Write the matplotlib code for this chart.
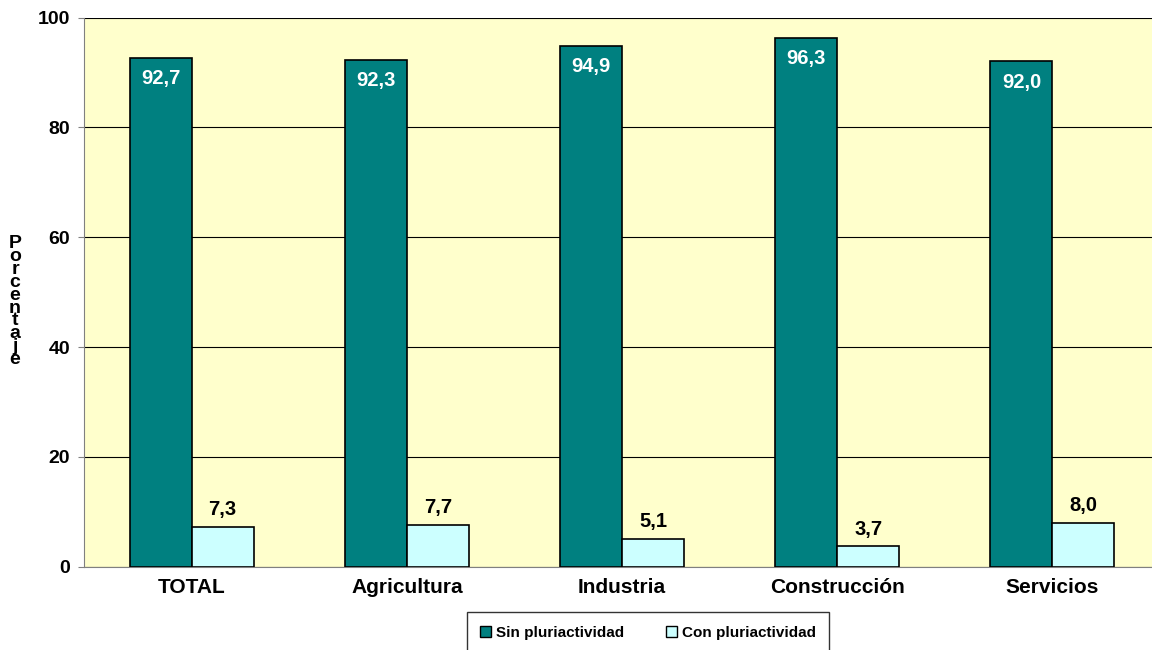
import matplotlib.pyplot as plt
import numpy as np
from matplotlib.patches import Patch

categorias = ["TOTAL", "Agricultura", "Industria", "Construcción", "Servicios"]
sin_pluri = [92.7, 92.3, 94.9, 96.3, 92.0]
con_pluri = [7.3, 7.7, 5.1, 3.7, 8.0]
serie_nombres = ["Sin pluriactividad", "Con pluriactividad"]

plt.rcParams['font.family'] = ['Liberation Sans', 'DejaVu Sans']

fig = plt.figure(figsize=(11.52, 6.5), dpi=100)
ax = fig.add_axes([0.073, 0.128, 0.934, 0.845])
ax.set_facecolor("#FFFFCC")

x = np.arange(len(categorias))
w = 0.288
b1 = ax.bar(x - w / 2, sin_pluri, w, color="#008080", edgecolor="black", linewidth=1.2, zorder=3)
b2 = ax.bar(x + w / 2, con_pluri, w, color="#CCFFFF", edgecolor="black", linewidth=1.2, zorder=3)

for rect, v in zip(b1, sin_pluri):
    ax.text(rect.get_x() + rect.get_width() / 2, v - 3.8, f"{v:.1f}".replace(".", ","),
            ha="center", va="center", color="white", fontsize=14.5, fontweight="bold", zorder=4)
for rect, v in zip(b2, con_pluri):
    ax.text(rect.get_x() + rect.get_width() / 2, v + 3.1, f"{v:.1f}".replace(".", ","),
            ha="center", va="center", color="black", fontsize=14.5, fontweight="bold", zorder=4)

ax.set_xlim(-0.5, len(categorias) - 0.5)
ax.set_ylim(0, 100)
ax.set_yticks([0, 20, 40, 60, 80, 100])
ax.yaxis.grid(True, color="black", linewidth=0.8, zorder=0)
ax.set_axisbelow(True)
ax.set_xticks(x)
ax.set_xticklabels(categorias, fontsize=15, fontweight="bold")
for lab in ax.get_yticklabels():
    lab.set_fontsize(14)
    lab.set_fontweight("bold")
ax.tick_params(axis="x", length=0, pad=8)
ax.tick_params(axis="y", length=4, color="#808080", pad=6)

for s in ["top", "right"]:
    ax.spines[s].set_visible(False)
ax.spines["left"].set_color("#808080")
ax.spines["bottom"].set_color("#808080")

# etiqueta del eje y apilada
fig.text(0.013, 0.536, "\n".join("Porcentaje"), ha="center", va="center",
         fontsize=14, fontweight="bold", linespacing=0.68)

handles = [Patch(facecolor="#008080", edgecolor="black"),
           Patch(facecolor="#CCFFFF", edgecolor="black")]
leg = fig.legend(handles, serie_nombres, loc="upper center", bbox_to_anchor=(0.5625, 0.058),
                 ncol=2, frameon=True, fancybox=False,
                 prop={"weight": "bold", "size": 11}, handlelength=0.7, handleheight=0.7,
                 handletextpad=0.3, columnspacing=2.8, borderpad=0.9, borderaxespad=0)
leg.get_frame().set_edgecolor("black")
leg.get_frame().set_linewidth(1.0)

fig.savefig("out.png", dpi=100)
